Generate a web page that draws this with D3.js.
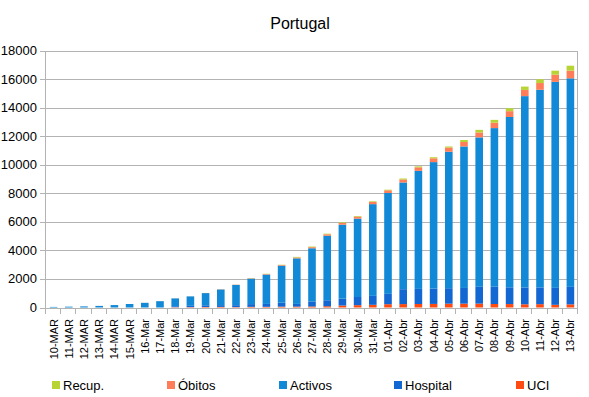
<!DOCTYPE html>
<html>
<head>
<meta charset="utf-8">
<script src="https://cdn.jsdelivr.net/npm/d3@7"></script>
<style>
  body { margin: 0; background: #fff; }
  text { font-family: "Liberation Sans", Arial, sans-serif; fill: #000; }
</style>
</head>
<body>
<svg id="plot" width="589" height="397"></svg>
<script>

////////////////////////////////////////////////////////////////
// Data

let dates = ["10-MAR","11-MAR","12-MAR","13-MAR","14-MAR","15-MAR",
  "16-Mar","17-Mar","18-Mar","19-Mar","20-Mar","21-Mar","22-Mar","23-Mar",
  "24-Mar","25-Mar","26-Mar","27-Mar","28-Mar","29-Mar","30-Mar","31-Mar",
  "01-Abr","02-Abr","03-Abr","04-Abr","05-Abr","06-Abr","07-Abr","08-Abr",
  "09-Abr","10-Abr","11-Abr","12-Abr","13-Abr"]

let uci     = [0,0,0,0,0,0,0,0,20,26,35,41,28,47,48,61,61,71,89,138,164,188,
               230,240,245,251,267,270,271,245,241,226,233,188,218]
let hosp    = [0,0,0,0,0,0,0,0,69,90,120,125,135,190,203,276,191,354,418,486,571,627,
               726,1042,1058,1075,1084,1099,1180,1211,1173,1179,1175,1187,1227]
let activos = [41,59,78,112,169,245,327,444,548,663,854,1097,1418,1786,2056,2593,3189,
               3724,4520,5176,5490,6425,7065,7475,8269,8857,9557,9910,10462,11109,
               11928,13399,13843,14429,14607]
let obitos  = [0,0,0,0,0,0,1,1,2,3,6,12,14,23,33,43,60,76,100,119,140,160,
               187,209,246,266,295,311,345,380,409,435,470,504,535]
let recup   = [0,0,0,0,0,0,3,3,3,3,5,5,5,14,22,22,43,43,43,43,43,43,
               43,68,68,75,75,140,184,196,205,233,266,277,347]

let yTicks = [0,2000,4000,6000,8000,10000,12000,14000,16000,18000]

// stacking order bottom -> top, legend shows it reversed
let keys   = ["uci","hosp","activos","obitos","recup"]
let names  = {uci:"UCI", hosp:"Hospital", activos:"Activos", obitos:"Óbitos", recup:"Recup."}
let colors = {uci:"#ff4a12", hosp:"#1367d2", activos:"#1189d6", obitos:"#ff7d58", recup:"#b8d334"}

let rows = dates.map(function(d,i) {
  return {date:d, uci:uci[i], hosp:hosp[i], activos:activos[i], obitos:obitos[i], recup:recup[i]}
})

////////////////////////////////////////////////////////////////
// Scales

let svg = d3.select("#plot")

let xScale = d3.scaleBand()
  .domain(dates)
  .range([46,578])
  .paddingInner(0.5)
  .paddingOuter(0.25)

let yScale = d3.scaleLinear()
  .domain([0,18000])
  .range([307.5,50.5])

// grid
svg.append("g")
  .selectAll("line")
  .data(yTicks)
  .enter()
  .append("line")
  .attr("x1", 40).attr("x2", 578)
  .attr("y1", d => Math.round(yScale(d)) + 0.5)
  .attr("y2", d => Math.round(yScale(d)) + 0.5)
  .attr("stroke", "#b3b3b3")

// right border + left axis line
svg.append("line")
  .attr("x1", 577.5).attr("x2", 577.5)
  .attr("y1", Math.round(yScale(18000)) + 0.5).attr("y2", Math.round(yScale(0)) + 0.5)
  .attr("stroke", "#b3b3b3")
svg.append("line")
  .attr("x1", 45.5).attr("x2", 45.5)
  .attr("y1", Math.round(yScale(18000)) + 0.5).attr("y2", Math.round(yScale(0)) + 5.5)
  .attr("stroke", "#b3b3b3")

// y labels
svg.append("g")
  .selectAll("text")
  .data(yTicks)
  .enter()
  .append("text")
  .attr("x", 37)
  .attr("y", d => yScale(d) + 4.5)
  .attr("text-anchor", "end")
  .style("font-size", "13px")
  .text(d => d)

////////////////////////////////////////////////////////////////
// Stacked bars

let series = d3.stack().keys(keys)(rows)

svg.append("g")
  .selectAll("g")
  .data(series)
  .enter()
  .append("g")
  .attr("fill", s => colors[s.key])
  .selectAll("rect")
  .data(s => s)
  .enter()
  .append("rect")
  .attr("x", p => xScale(p.data.date))
  .attr("width", xScale.bandwidth())
  .attr("y", p => yScale(p[1]))
  .attr("height", p => yScale(p[0]) - yScale(p[1]))

// x ticks at category boundaries
let step = xScale.step()
svg.append("g")
  .selectAll("line")
  .data(d3.range(dates.length + 1))
  .enter()
  .append("line")
  .attr("x1", i => Math.round(46 + i*step) - 0.5)
  .attr("x2", i => Math.round(46 + i*step) - 0.5)
  .attr("y1", 308).attr("y2", 314)
  .attr("stroke", "#b3b3b3")

// x labels, rotated
svg.append("g")
  .selectAll("text")
  .data(dates)
  .enter()
  .append("text")
  .attr("transform", d => "translate(" + (xScale(d) + xScale.bandwidth()/2 + 4) + ",319) rotate(-90)")
  .attr("text-anchor", "end")
  .style("font-size", "11px")
  .text(d => d)

////////////////////////////////////////////////////////////////
// Title and legend

svg.append("text")
  .attr("x", 300)
  .attr("y", 29)
  .attr("text-anchor", "middle")
  .style("font-size", "16px")
  .text("Portugal")

let legendX = [52, 167, 279, 394, 516]
let legend = svg.append("g")
  .selectAll("g")
  .data(keys.slice().reverse())
  .enter()
  .append("g")
  .attr("transform", (k,i) => "translate(" + legendX[i] + ",381)")

legend.append("rect")
  .attr("width", 8).attr("height", 8)
  .attr("fill", k => colors[k])

legend.append("text")
  .attr("x", 11)
  .attr("y", 9)
  .style("font-size", "13px")
  .text(k => names[k])

</script>
</body>
</html>
